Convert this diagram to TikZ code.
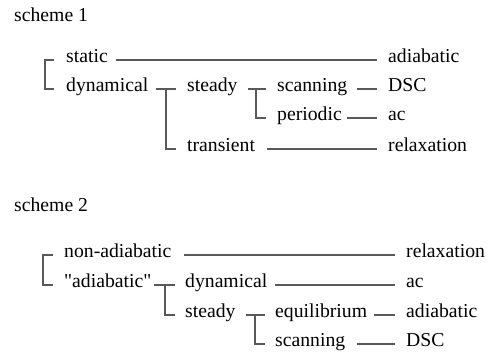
\documentclass[tikz,border=0pt]{standalone}
\usepackage{fontspec}
\setmainfont{Liberation Serif}[Ligatures=TeXOff]
\begin{document}
\begin{tikzpicture}[x=1pt,y=-1pt,
  lbl/.style={anchor=west,inner sep=0pt,text height=0.66em,text depth=0.14em,
    font=\fontsize{19.7}{24}\selectfont,text=black},
  conn/.style={draw=black!65,line width=1.3pt}]
\useasboundingbox (0,0) rectangle (493,355);
% scheme 1
\node[lbl] (t1) at (14,19) {scheme 1};
\node[lbl] (s) at (66,60) {static};
\node[lbl] (d) at (66,89) {dynamical};
\node[lbl] (st) at (187,89) {steady};
\node[lbl] (tr) at (187,149) {transient};
\node[lbl] (sc) at (277,89) {scanning};
\node[lbl] (pe) at (277,118) {periodic};
\node[lbl] (a1) at (388,60) {adiabatic};
\node[lbl] (dsc) at (388,89) {DSC};
\node[lbl] (ac) at (388,118) {ac};
\node[lbl] (rel) at (388,149) {relaxation};
\coordinate (j1) at (166,89);
\coordinate (j2) at (256,89);
\draw[conn] ([xshift=-12pt]s.west) -- ++(-9,0) |- ([xshift=-12pt]d.west);
\draw[conn] ([xshift=8pt]s.east) -- ([xshift=-11pt]a1.west);
\draw[conn] ([xshift=8pt]d.east) -- ([xshift=-11pt]st.west);
\draw[conn] (j1) |- ([xshift=-11pt]tr.west);
\draw[conn] ([xshift=10pt]st.east) -- ([xshift=-11pt]sc.west);
\draw[conn] (j2) |- ([xshift=-11pt]pe.west);
\draw[conn] ([xshift=10pt]sc.east) -- ([xshift=-11pt]dsc.west);
\draw[conn] ([xshift=5pt]pe.east) -- ([xshift=-11pt]ac.west);
\draw[conn] ([xshift=12pt]tr.east) -- ([xshift=-11pt]rel.west);
% scheme 2
\node[lbl] (t2) at (14,209) {scheme 2};
\node[lbl] (na) at (64,255) {non-adiabatic};
\node[lbl] (ad) at (64,285) {"adiabatic"};
\node[lbl] (dy) at (185,285) {dynamical};
\node[lbl] (st2) at (185,315) {steady};
\node[lbl] (eq) at (275,315) {equilibrium};
\node[lbl] (sc2) at (275,344) {scanning};
\node[lbl] (r2) at (406,255) {relaxation};
\node[lbl] (ac2) at (406,285) {ac};
\node[lbl] (ad2) at (406,315) {adiabatic};
\node[lbl] (dsc2) at (406,344) {DSC};
\coordinate (j3) at (165,285);
\coordinate (j4) at (255,315);
\draw[conn] ([xshift=-11pt]na.west) -- ++(-10,0) |- ([xshift=-11pt]ad.west);
\draw[conn] ([xshift=12pt]na.east) -- ([xshift=-11pt]r2.west);
\draw[conn] ([xshift=2pt]ad.east) -- ([xshift=-10pt]dy.west);
\draw[conn] (j3) |- ([xshift=-10pt]st2.west);
\draw[conn] ([xshift=8pt]dy.east) -- ([xshift=-11pt]ac2.west);
\draw[conn] ([xshift=10pt]st2.east) -- ([xshift=-10pt]eq.west);
\draw[conn] (j4) |- ([xshift=-10pt]sc2.west);
\draw[conn] ([xshift=7pt]eq.east) -- ([xshift=-11pt]ad2.west);
\draw[conn] ([xshift=12pt]sc2.east) -- ([xshift=-11pt]dsc2.west);
\end{tikzpicture}
\end{document}
